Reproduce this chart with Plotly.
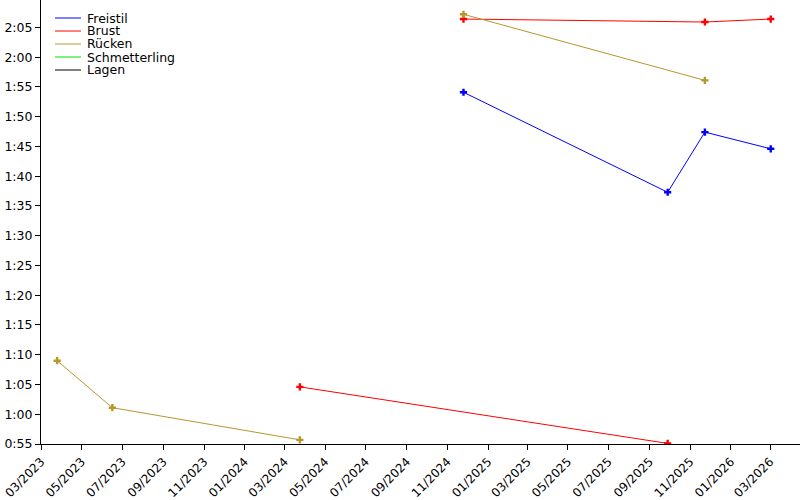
import plotly.graph_objects as go

# Data (times in seconds); None separates disconnected segments
freistil_dates = ["2024-11-25", "2025-09-28", "2025-11-23", "2026-03-02"]
freistil_secs = [114.1, 97.3, 107.4, 104.6]

brust_dates = ["2024-03-24", "2025-09-28", None, "2024-11-25", "2025-11-23", "2026-03-02"]
brust_secs = [64.6, 55.1, None, 126.4, 125.9, 126.4]

ruecken_dates = ["2023-03-25", "2023-06-16", "2024-03-24", None, "2024-11-25", "2025-11-23"]
ruecken_secs = [69.0, 61.1, 55.7, None, 127.2, 116.1]

schmetterling_dates = []
schmetterling_secs = []
lagen_dates = []
lagen_secs = []

x_ticks = ["2023-03-01", "2023-05-01", "2023-07-01", "2023-09-01", "2023-11-01",
           "2024-01-01", "2024-03-01", "2024-05-01", "2024-07-01", "2024-09-01",
           "2024-11-01", "2025-01-01", "2025-03-01", "2025-05-01", "2025-07-01",
           "2025-09-01", "2025-11-01", "2026-01-01", "2026-03-01"]
x_ticktext = [f"{d[5:7]}/{d[0:4]}" for d in x_ticks]

y_ticks = list(range(55, 130, 5))
y_ticktext = [f"{s // 60}:{s % 60:02d}" for s in y_ticks]

series = [
    ("Freistil", freistil_dates, freistil_secs, "#0000ff"),
    ("Brust", brust_dates, brust_secs, "#ff0000"),
    ("Rücken", ruecken_dates, ruecken_secs, "#b8962e"),
    ("Schmetterling", schmetterling_dates, schmetterling_secs, "#00e000"),
    ("Lagen", lagen_dates, lagen_secs, "#000000"),
]

W, H = 800, 500
ML, MR, MT, MB = 41, 0, 0, 56
PW, PH = W - ML - MR, H - MT - MB

fig = go.Figure()
for name, xs, ys, col in series:
    fig.add_trace(go.Scatter(
        x=xs, y=ys, name=name, mode="lines+markers",
        line=dict(color=col, width=1),
        marker=dict(symbol="cross", size=6, color=col),
        connectgaps=False, showlegend=False,
    ))

# compact legend (line samples + text), positioned in pixels
for i, (name, _, _, col) in enumerate(series):
    yc = 18 + 13 * i
    yp = 1 - (yc - MT) / PH
    fig.add_shape(type="line", xref="paper", yref="paper",
                  x0=(55 - ML) / PW, x1=(81 - ML) / PW, y0=yp, y1=yp,
                  line=dict(color=col, width=1))
    fig.add_annotation(xref="paper", yref="paper", x=(85 - ML) / PW, y=yp,
                       text=name, showarrow=False, xanchor="left",
                       yanchor="middle", font=dict(size=12.5, color="black"))

fig.update_layout(
    width=W, height=H,
    margin=dict(l=ML, r=MR, t=MT, b=MB),
    paper_bgcolor="white", plot_bgcolor="white",
    font=dict(family="DejaVu Sans", size=13, color="black"),
    showlegend=False,
    xaxis=dict(type="date", range=["2023-02-28 18:00", "2026-04-15"],
               tickvals=x_ticks, ticktext=x_ticktext, tickangle=-45,
               tickfont=dict(size=12),
               showgrid=False, zeroline=False, showline=True,
               linecolor="black", linewidth=1, ticks="outside",
               ticklen=5, tickcolor="black", automargin=False,
               ticklabeloverflow="allow"),
    yaxis=dict(range=[55, 129.6], tickvals=y_ticks, ticktext=y_ticktext,
               tickfont=dict(size=12.5),
               showgrid=False, zeroline=False, showline=True,
               linecolor="black", linewidth=1, ticks="outside",
               ticklen=5, tickcolor="black", automargin=False),
)

fig.write_html("out.html")
